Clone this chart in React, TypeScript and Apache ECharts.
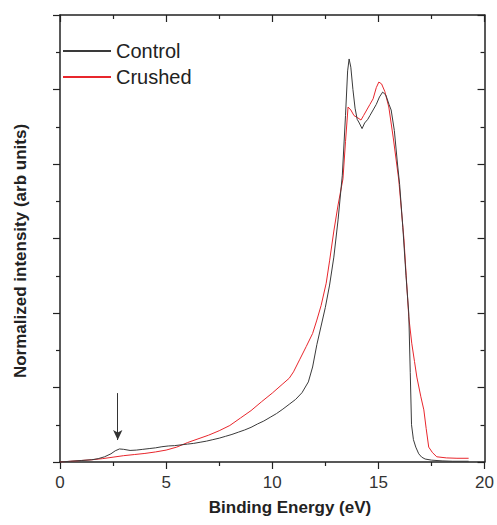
import React, { useEffect, useRef } from "react";
import * as echarts from "echarts";

const xTicks = [0, 5, 10, 15, 20];
const seriesNames = ["Control", "Crushed"];

const controlEnergy = [
  0, 0.5, 1.0, 1.5, 1.8, 2.1, 2.4, 2.6, 2.8, 3.0, 3.3, 3.6, 3.9, 4.2, 4.5, 4.8, 5.1, 5.4, 5.7, 6.0,
  6.3, 6.6, 6.9, 7.2, 7.5, 7.8, 8.1, 8.4, 8.7, 9.0, 9.3, 9.6, 9.9, 10.2, 10.5, 10.8, 11.1, 11.4, 11.7,
  11.9, 12.1, 12.3, 12.5, 12.7, 12.9, 13.1, 13.3, 13.45, 13.55, 13.62, 13.7, 13.8, 13.9, 14.0, 14.1,
  14.23, 14.35, 14.5, 14.6, 14.75, 14.9, 15.05, 15.2, 15.35, 15.5, 15.6, 15.75, 15.9, 16.0, 16.15,
  16.3, 16.43, 16.5, 16.56, 16.65, 16.76, 16.9, 17.04, 17.2, 17.5, 18.0, 18.5, 19.25,
];
const controlIntensity = [
  0, 0.02, 0.04, 0.06, 0.09, 0.14, 0.22, 0.3, 0.35, 0.34, 0.31, 0.32, 0.34, 0.36, 0.38, 0.41, 0.43,
  0.44, 0.46, 0.48, 0.5, 0.53, 0.56, 0.6, 0.64, 0.69, 0.74, 0.8, 0.86, 0.93, 1.02, 1.1, 1.2, 1.3,
  1.42, 1.55, 1.68, 1.86, 2.15, 2.55, 3.15, 3.65, 4.15, 4.75, 5.5, 6.5, 7.7, 9.3, 10.5, 10.82, 10.6,
  10.0, 9.5, 9.2, 9.1, 8.95, 9.1, 9.2, 9.3, 9.45, 9.6, 9.8, 9.93, 9.85, 9.6, 9.45, 8.9, 8.0, 7.45,
  6.3, 5.0, 4.0, 2.4, 1.0, 0.6, 0.4, 0.22, 0.13, 0.08, 0.05, 0.03, 0.02, 0.02,
];

const crushedEnergy = [
  0, 0.5, 1.0, 1.5, 2.0, 2.5, 3.0, 3.5, 4.0, 4.5, 5.0, 5.5, 6.0, 6.5, 7.0, 7.5, 8.0, 8.5, 9.0, 9.5,
  10.0, 10.5, 10.8, 11.0, 11.3, 11.6, 11.9, 12.1, 12.3, 12.54, 12.7, 12.9, 13.1, 13.33, 13.45, 13.57,
  13.7, 13.85, 14.0, 14.18, 14.3, 14.45, 14.6, 14.75, 14.9, 15.02, 15.15, 15.3, 15.49, 15.7, 15.96,
  16.2, 16.43, 16.57, 16.7, 16.81, 17.0, 17.14, 17.25, 17.37, 17.55, 17.75, 18.2, 18.7, 19.25,
];
const crushedIntensity = [
  0, 0.02, 0.04, 0.06, 0.09, 0.13, 0.17, 0.2, 0.23, 0.27, 0.32, 0.4, 0.52, 0.62, 0.72, 0.84, 0.98,
  1.18, 1.38, 1.62, 1.85, 2.1, 2.25, 2.42, 2.76, 3.1, 3.45, 3.81, 4.2, 4.8, 5.4, 6.2, 6.9, 7.6, 8.6,
  9.53, 9.45, 9.3, 9.25, 9.18, 9.3, 9.45, 9.6, 9.75, 10.05, 10.2, 10.15, 9.95, 9.53, 8.7, 7.57, 6.0,
  3.9, 3.19, 2.7, 2.28, 1.75, 1.4, 0.9, 0.4, 0.25, 0.14, 0.11, 0.1, 0.1,
];

const arrowEnergy = 2.72;
const arrowFrom = 1.85;
const arrowTo = 0.59;

const zip = (xs: number[], ys: number[]) => xs.map((x, i) => [x, ys[i]]);

const FONT = "'Liberation Sans', Arial, Helvetica, sans-serif";
const AXIS_COLOR = "#222";

export default function App() {
  const ref = useRef<HTMLDivElement>(null);

  useEffect(() => {
    if (!ref.current) return;
    const chart = echarts.init(ref.current, undefined, { renderer: "svg" });
    const axisLine = { show: true, onZero: false, lineStyle: { color: AXIS_COLOR, width: 1.5 } };
    const xBase = {
      type: "value" as const,
      min: xTicks[0],
      max: xTicks[xTicks.length - 1],
      interval: xTicks[1] - xTicks[0],
      splitLine: { show: false },
      axisLine,
      minorTick: { show: true, splitNumber: 2, length: 4, lineStyle: { color: AXIS_COLOR, width: 1.2 } },
    };
    const yBase = {
      type: "value" as const,
      min: 0,
      max: 12,
      interval: 2,
      splitLine: { show: false },
      axisLine,
      axisLabel: { show: false },
      minorTick: { show: true, splitNumber: 2, length: 4, lineStyle: { color: AXIS_COLOR, width: 1.2 } },
    };
    chart.setOption({
      animation: false,
      backgroundColor: "#fff",
      grid: { left: 60, right: 11, top: 15, bottom: 63, containLabel: false },
      xAxis: [
        {
          ...xBase,
          position: "bottom",
          axisTick: { show: true, inside: false, length: 7, lineStyle: { color: AXIS_COLOR, width: 1.2 } },
          axisLabel: { show: true, fontSize: 17, color: "#333", margin: 12, fontFamily: FONT },
        },
        {
          ...xBase,
          position: "top",
          axisTick: { show: true, inside: true, length: 7, lineStyle: { color: AXIS_COLOR, width: 1.2 } },
          axisLabel: { show: false },
        },
      ],
      yAxis: [
        {
          ...yBase,
          position: "left",
          axisTick: { show: true, inside: false, length: 7, lineStyle: { color: AXIS_COLOR, width: 1.2 } },
        },
        {
          ...yBase,
          position: "right",
          axisTick: { show: true, inside: true, length: 7, lineStyle: { color: AXIS_COLOR, width: 1.2 } },
        },
      ],
      legend: {
        orient: "vertical",
        left: 63,
        top: 38,
        padding: 0,
        itemGap: 0,
        itemWidth: 48,
        itemHeight: 2,
        icon: "rect",
        textStyle: { fontSize: 20, color: "#222", fontFamily: FONT, lineHeight: 26 },
        data: seriesNames,
      },
      graphic: [
        {
          type: "text",
          x: 20,
          y: 251,
          rotation: Math.PI / 2,
          style: {
            text: "Normalized intensity (arb units)",
            font: `bold 17px ${FONT}`,
            fill: "#222",
            textAlign: "center",
            textVerticalAlign: "middle",
          },
        },
        {
          type: "text",
          x: 290,
          y: 507,
          style: {
            text: "Binding Energy (eV)",
            font: `bold 17px ${FONT}`,
            fill: "#222",
            textAlign: "center",
            textVerticalAlign: "middle",
          },
        },
      ],
      series: [
        {
          name: seriesNames[0],
          type: "line",
          showSymbol: false,
          symbol: "none",
          data: zip(controlEnergy, controlIntensity),
          lineStyle: { color: "#3a3a3a", width: 1 },
          itemStyle: { color: "#3a3a3a" },
          z: 3,
          markLine: {
            silent: true,
            symbol: ["none", "arrow"],
            symbolSize: [7, 10],
            label: { show: false },
            lineStyle: { color: "#333", width: 1, type: "solid" },
            data: [[{ coord: [arrowEnergy, arrowFrom] }, { coord: [arrowEnergy, arrowTo] }]],
          },
        },
        {
          name: seriesNames[1],
          type: "line",
          showSymbol: false,
          symbol: "none",
          data: zip(crushedEnergy, crushedIntensity),
          lineStyle: { color: "#e8262c", width: 1 },
          itemStyle: { color: "#e8262c" },
          z: 2,
        },
      ],
    });
    return () => chart.dispose();
  }, []);

  return <div ref={ref} style={{ width: 497, height: 525, position: "absolute", left: 0, top: 0 }} />;
}
